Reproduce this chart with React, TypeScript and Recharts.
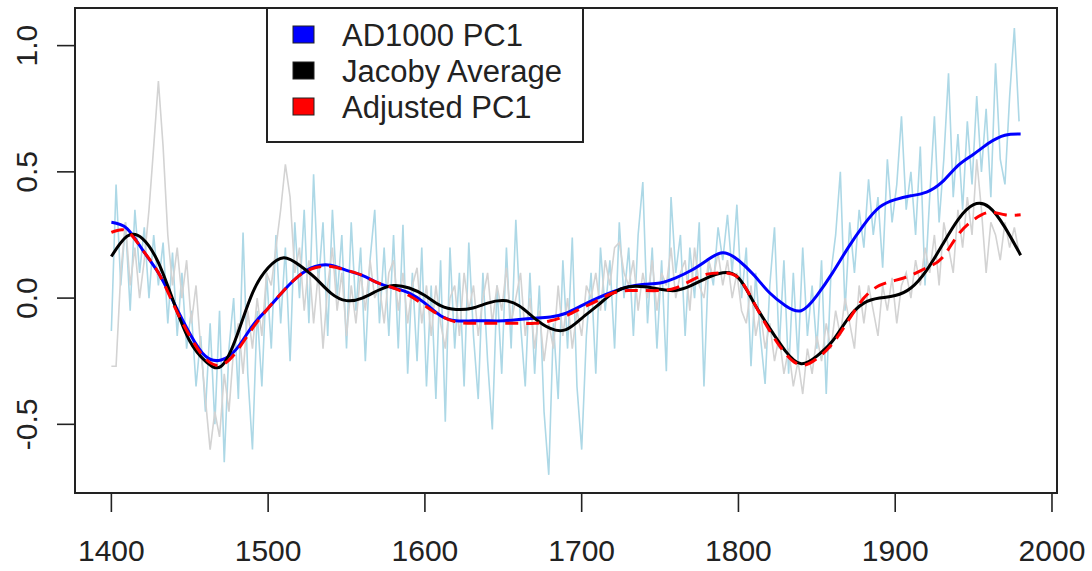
import React from 'react';
import { LineChart, Line, XAxis, YAxis, ReferenceArea } from 'recharts';

// ---- smoothed series (every 10 years) ----
const smoothYears = [
  1400, 1410, 1420, 1430, 1440, 1450, 1460, 1470, 1480, 1490,
  1500, 1510, 1520, 1530, 1540, 1550, 1560, 1570, 1580, 1590,
  1600, 1610, 1620, 1630, 1640, 1650, 1660, 1670, 1680, 1690,
  1700, 1710, 1720, 1730, 1740, 1750, 1760, 1770, 1780, 1790,
  1800, 1810, 1820, 1830, 1840, 1850, 1860, 1870, 1880, 1890,
  1900, 1910, 1920, 1930, 1940, 1950, 1960, 1970, 1980,
];
const ad1000Smooth = [
  0.30, 0.275, 0.19, 0.10, -0.02, -0.14, -0.23, -0.245, -0.20, -0.11,
  -0.04, 0.03, 0.09, 0.125, 0.13, 0.11, 0.09, 0.06, 0.04, 0.02,
  -0.02, -0.07, -0.09, -0.09, -0.09, -0.09, -0.085, -0.08, -0.075, -0.06,
  -0.03, 0.0, 0.025, 0.045, 0.055, 0.06, 0.08, 0.11, 0.15, 0.18,
  0.15, 0.09, 0.02, -0.03, -0.05, 0.01, 0.10, 0.20, 0.29, 0.36,
  0.39, 0.405, 0.42, 0.46, 0.525, 0.57, 0.615, 0.645, 0.65,
];
const jacobySmooth = [
  0.165, 0.245, 0.235, 0.14, -0.02, -0.17, -0.25, -0.27, -0.15, 0.02,
  0.12, 0.16, 0.13, 0.08, 0.02, -0.01, 0.0, 0.03, 0.05, 0.04,
  0.01, -0.03, -0.045, -0.04, -0.02, -0.01, -0.03, -0.08, -0.12, -0.125,
  -0.08, -0.03, 0.02, 0.045, 0.045, 0.035, 0.03, 0.05, 0.08, 0.10,
  0.08, -0.02, -0.12, -0.21, -0.26, -0.23, -0.17, -0.08, -0.02, 0.0,
  0.01, 0.04, 0.11, 0.21, 0.31, 0.37, 0.36, 0.28, 0.17,
];
const adjustedSmooth = [
  0.26, 0.265, 0.19, 0.10, -0.03, -0.15, -0.24, -0.265, -0.21, -0.12,
  -0.04, 0.03, 0.09, 0.12, 0.125, 0.11, 0.09, 0.06, 0.04, 0.01,
  -0.03, -0.07, -0.095, -0.10, -0.10, -0.10, -0.10, -0.10, -0.09, -0.07,
  -0.04, -0.01, 0.02, 0.03, 0.03, 0.03, 0.04, 0.07, 0.095, 0.10,
  0.08, -0.02, -0.13, -0.22, -0.265, -0.24, -0.18, -0.09, 0.0, 0.05,
  0.07, 0.09, 0.12, 0.16, 0.25, 0.31, 0.34, 0.33, 0.33,
];

// ---- annual-resolution series (sampled every 3 years from 1400) ----
const annualStart = 1400;
const annualStep = 3;
const ad1000Annual = [
  -0.13, 0.45, 0.05, 0.30, -0.05, 0.35, 0.10, 0.28, 0.00, 0.25,
  0.05, 0.22, -0.10, 0.18, -0.15, 0.10, -0.20, -0.05, -0.35, -0.15,
  -0.45, -0.10, -0.50, -0.05, -0.65, -0.20, 0.00, -0.40, 0.26, -0.30,
  -0.60, -0.05, -0.35, 0.10, -0.20, 0.25, -0.10, 0.20, -0.25, 0.30,
  0.00, 0.35, -0.10, 0.49, 0.05, 0.30, -0.15, 0.35, 0.00, 0.25,
  -0.20, 0.30, -0.05, 0.20, -0.25, 0.15, 0.35, -0.10, 0.20, -0.15,
  0.25, -0.20, 0.29, -0.30, 0.10, -0.25, 0.20, -0.35, 0.05, -0.40,
  0.15, -0.49, 0.20, -0.20, 0.10, -0.35, 0.22, -0.15, -0.40, 0.10,
  -0.25, -0.52, 0.05, -0.30, 0.20, -0.20, 0.31, -0.10, -0.35, 0.10,
  -0.30, 0.05, -0.45, -0.70, -0.10, -0.40, 0.15, -0.20, 0.24, -0.35,
  -0.60, -0.15, 0.10, -0.30, 0.20, -0.05, 0.15, -0.20, 0.30, 0.00,
  0.20, -0.15, 0.25, 0.46, -0.10, 0.20, -0.20, 0.15, -0.29, 0.40,
  0.10, 0.25, -0.15, 0.20, 0.00, 0.30, -0.35, 0.15, 0.05, 0.28,
  0.15, 0.33, 0.10, 0.37, 0.00, 0.20, -0.27, 0.10, -0.15, -0.34,
  0.05, 0.28, -0.20, 0.15, -0.30, 0.10, -0.25, 0.20, -0.15, 0.05,
  -0.20, 0.15, -0.38, 0.10, 0.25, 0.50, -0.05, 0.30, 0.10, 0.35,
  0.20, 0.47, 0.25, 0.40, 0.12, 0.55, 0.30, 0.45, 0.72, 0.35,
  0.50, 0.25, 0.60, 0.05, 0.40, 0.72, 0.30, 0.55, 0.89, 0.40,
  0.65, 0.35, 0.70, 0.45, 0.80, 0.50, 0.75, 0.40, 0.93, 0.55,
  0.45, 0.80, 1.07, 0.70,
];
const jacobyAnnual = [
  -0.27, -0.27, 0.10, 0.30, 0.05, 0.20, 0.00, 0.15, 0.35, 0.60,
  0.86, 0.60, 0.25, 0.05, 0.20, 0.00, 0.15, -0.10, 0.05, -0.20,
  -0.40, -0.60, -0.45, -0.55, -0.30, -0.45, -0.20, -0.10, -0.30, -0.05,
  -0.20, 0.00, -0.15, 0.10, 0.05, 0.20, 0.35, 0.53, 0.40, 0.10,
  0.20, -0.05, 0.15, -0.10, 0.10, -0.20, 0.05, 0.20, -0.05, 0.10,
  -0.15, 0.05, -0.10, 0.10, -0.05, 0.15, 0.00, 0.05, -0.10, 0.10,
  0.15, -0.05, 0.10, -0.10, 0.05, 0.12, -0.10, 0.05, -0.15, 0.05,
  -0.10, -0.20, 0.00, 0.05, -0.15, 0.10, -0.05, 0.05, -0.15, 0.00,
  0.10, -0.10, 0.05, -0.05, 0.12, -0.10, 0.00, 0.10, -0.15, 0.00,
  -0.20, -0.05, -0.25, -0.10, -0.20, 0.05, -0.15, 0.00, -0.20, -0.05,
  -0.15, 0.05, 0.00, 0.10, -0.05, 0.15, 0.05, 0.20, 0.22, 0.10,
  0.05, 0.15, -0.05, 0.10, 0.00, 0.15, -0.05, 0.10, 0.05, 0.20,
  0.00, 0.10, 0.15, -0.05, 0.20, 0.05, 0.00, 0.15, 0.08, 0.18,
  0.05, 0.15, 0.00, 0.10, -0.05, -0.10, 0.05, -0.15, -0.05, -0.20,
  -0.10, -0.25, -0.15, -0.30, -0.20, -0.35, -0.25, -0.38, -0.20, -0.30,
  -0.15, -0.25, -0.10, -0.20, -0.05, -0.15, 0.00, -0.10, -0.20, 0.05,
  -0.10, 0.05, -0.05, -0.15, 0.05, -0.05, 0.08, -0.10, 0.05, 0.10,
  0.00, 0.15, 0.05, 0.20, 0.10, 0.25, 0.05, 0.30, 0.20, 0.10,
  0.35, 0.20, 0.40, 0.25, 0.55, 0.35, 0.10, 0.30, 0.25, 0.15,
  0.30, 0.20, 0.28, 0.18,
];

const xTicks = [1400, 1500, 1600, 1700, 1800, 1900, 2000];
const yTicks = [-0.5, 0, 0.5, 1.0];
const yTickLabels = ['-0.5', '0.0', '0.5', '1.0'];
const legendLabels = ['AD1000 PC1', 'Jacoby Average', 'Adjusted PC1'];
const legendColors = ['#0000FF', '#000000', '#FF0000'];

const X_DOMAIN: [number, number] = [1376.8, 2003.2];
const Y_DOMAIN: [number, number] = [-0.772, 1.149];

const toPoints = (years: number[], vals: number[]) =>
  vals.map((v, i) => ({ year: years[i], v }));
const toAnnual = (vals: number[]) =>
  vals.map((v, i) => ({ year: annualStart + i * annualStep, v }));

const FONT = '"Liberation Sans", Arial, Helvetica, sans-serif';
const INK = '#222';

const YTick = (props: any) => {
  const { y, payload } = props;
  const x = 37;
  const idx = yTicks.indexOf(payload.value);
  return (
    <text
      x={x}
      y={y}
      transform={`rotate(-90 ${x} ${y})`}
      textAnchor="middle"
      fontSize={30}
      fontFamily={FONT}
      fill={INK}
    >
      {idx >= 0 ? yTickLabels[idx] : String(payload.value)}
    </text>
  );
};

export default function App() {
  return (
    <div style={{ position: 'absolute', left: 0, top: 0, width: 1092, height: 571, background: '#fff' }}>
      <LineChart width={1092} height={571} margin={{ top: 8, right: 35, bottom: 0, left: 0 }}>
        <XAxis
          type="number"
          dataKey="year"
          domain={X_DOMAIN}
          allowDataOverflow
          ticks={xTicks}
          interval={0}
          height={78}
          tickSize={19}
          tickMargin={28}
          axisLine={false}
          tickLine={{ stroke: INK, strokeWidth: 1.6 }}
          tick={{ fontSize: 30, fill: INK, fontFamily: FONT }}
        />
        <YAxis
          type="number"
          domain={Y_DOMAIN}
          allowDataOverflow
          ticks={yTicks}
          interval={0}
          width={75}
          tickSize={18}
          axisLine={false}
          tickLine={{ stroke: INK, strokeWidth: 1.6 }}
          tick={<YTick />}
        />
        <Line
          data={toAnnual(ad1000Annual)}
          dataKey="v"
          type="linear"
          stroke="#ADD8E6"
          strokeWidth={1.6}
          dot={false}
          activeDot={false}
          isAnimationActive={false}
        />
        <Line
          data={toAnnual(jacobyAnnual)}
          dataKey="v"
          type="linear"
          stroke="#D3D3D3"
          strokeWidth={1.6}
          dot={false}
          activeDot={false}
          isAnimationActive={false}
        />
        <Line
          data={toPoints(smoothYears, ad1000Smooth)}
          dataKey="v"
          type="natural"
          stroke="#0000FF"
          strokeWidth={3}
          dot={false}
          activeDot={false}
          isAnimationActive={false}
        />
        <Line
          data={toPoints(smoothYears, jacobySmooth)}
          dataKey="v"
          type="natural"
          stroke="#000000"
          strokeWidth={3}
          dot={false}
          activeDot={false}
          isAnimationActive={false}
        />
        <Line
          data={toPoints(smoothYears, adjustedSmooth)}
          dataKey="v"
          type="natural"
          stroke="#FF0000"
          strokeWidth={3}
          strokeDasharray="13 8"
          dot={false}
          activeDot={false}
          isAnimationActive={false}
        />
        <ReferenceArea
          x1={X_DOMAIN[0]}
          x2={X_DOMAIN[1]}
          y1={Y_DOMAIN[0]}
          y2={Y_DOMAIN[1]}
          fill="none"
          fillOpacity={0}
          stroke={INK}
          strokeWidth={2}
          ifOverflow="visible"
        />
      </LineChart>
      <svg
        width={1092}
        height={571}
        style={{ position: 'absolute', left: 0, top: 0, pointerEvents: 'none' }}
      >
        <rect x={267} y={8} width={316} height={134} fill="#fff" stroke={INK} strokeWidth={2} />
        {legendLabels.map((label, i) => (
          <g key={label}>
            <rect x={293} y={26 + i * 36} width={21} height={17} fill={legendColors[i]} stroke={INK} strokeWidth={1} />
            <text x={342} y={46 + i * 36} fontSize={31} fontFamily={FONT} fill={INK}>
              {label}
            </text>
          </g>
        ))}
      </svg>
    </div>
  );
}
